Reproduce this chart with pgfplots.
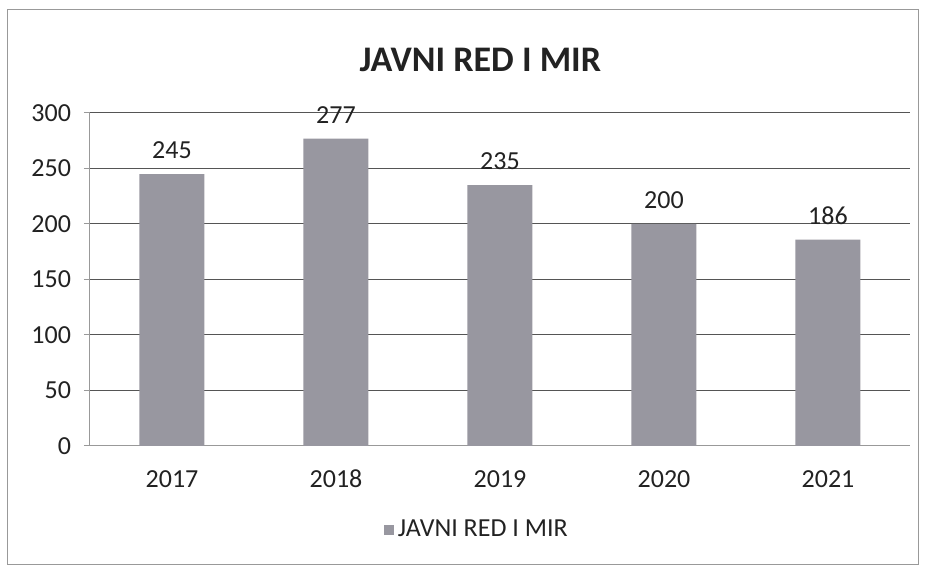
\documentclass[border=0pt]{standalone}
\usepackage{pgfplots}
\pgfplotsset{compat=1.18}
\usepackage{fontspec}
\setmainfont{Carlito}
\definecolor{barc}{HTML}{9897A0}
\definecolor{gridc}{HTML}{555555}
\definecolor{txt}{HTML}{222222}
\begin{document}
\begin{tikzpicture}[x=1pt,y=1pt]
\begin{axis}[
  scale only axis, width=410pt, height=166.5pt,
  ymin=0, ymax=300, ytick={0,50,...,300},
  xmin=-0.5, xmax=4.5,
  xtick={0,1,2,3,4}, xticklabels={2017,2018,2019,2020,2021},
  extra x ticks={-0.5,0.5,1.5,2.5,3.5,4.5}, extra x tick labels={},
  extra x tick style={major tick length=5pt, tick style={gray!80, line width=0.5pt}, grid=none},
  ymajorgrids, grid style={gridc, line width=0.5pt},
  axis x line*=bottom, axis y line*=left,
  axis line style={gray!80, line width=0.5pt},
  x axis line style={-}, y axis line style={-},
  x tick style={draw=none},
  y tick style={gray!80, line width=0.5pt},
  tick align=outside, major tick length=3pt,
  ticklabel style={font=\fontsize{13}{15}\selectfont, text=txt},
  /pgf/number format/assume math mode=true,
  yticklabel style={xshift=-3pt},
  xticklabel style={anchor=north, text height=9pt, text depth=1pt, yshift=-5pt},
  ybar, bar width=32.5pt,
  nodes near coords,
  nodes near coords style={font=\fontsize{13}{15}\selectfont, text=txt, yshift=4pt},
  title={\bfseries JAVNI RED I MIR},
  title style={font=\fontsize{18}{20}\selectfont, text=txt, at={(0.476,1)}, anchor=south, yshift=11pt},
  legend style={at={(0.473,-0.252)}, anchor=center, draw=none, fill=none, font=\fontsize{13}{15}\selectfont, text=txt, legend columns=1},
  legend image code/.code={\fill[barc] (0pt,-2.5pt) rectangle (5pt,2.5pt);},
]
\coordinate (o) at (rel axis cs:0,0);
\addplot[fill=barc, draw=none] coordinates {(0,245) (1,277) (2,235) (3,200) (4,186)};
\addlegendentry{JAVNI RED I MIR}
\end{axis}
\path[use as bounding box, shift={(o)}] (-45,-62.5) rectangle (419,223);
\draw[gray!80, line width=0.5pt, shift={(o)}] (-41,-59.5) rectangle (414,218);
\end{tikzpicture}
\end{document}
